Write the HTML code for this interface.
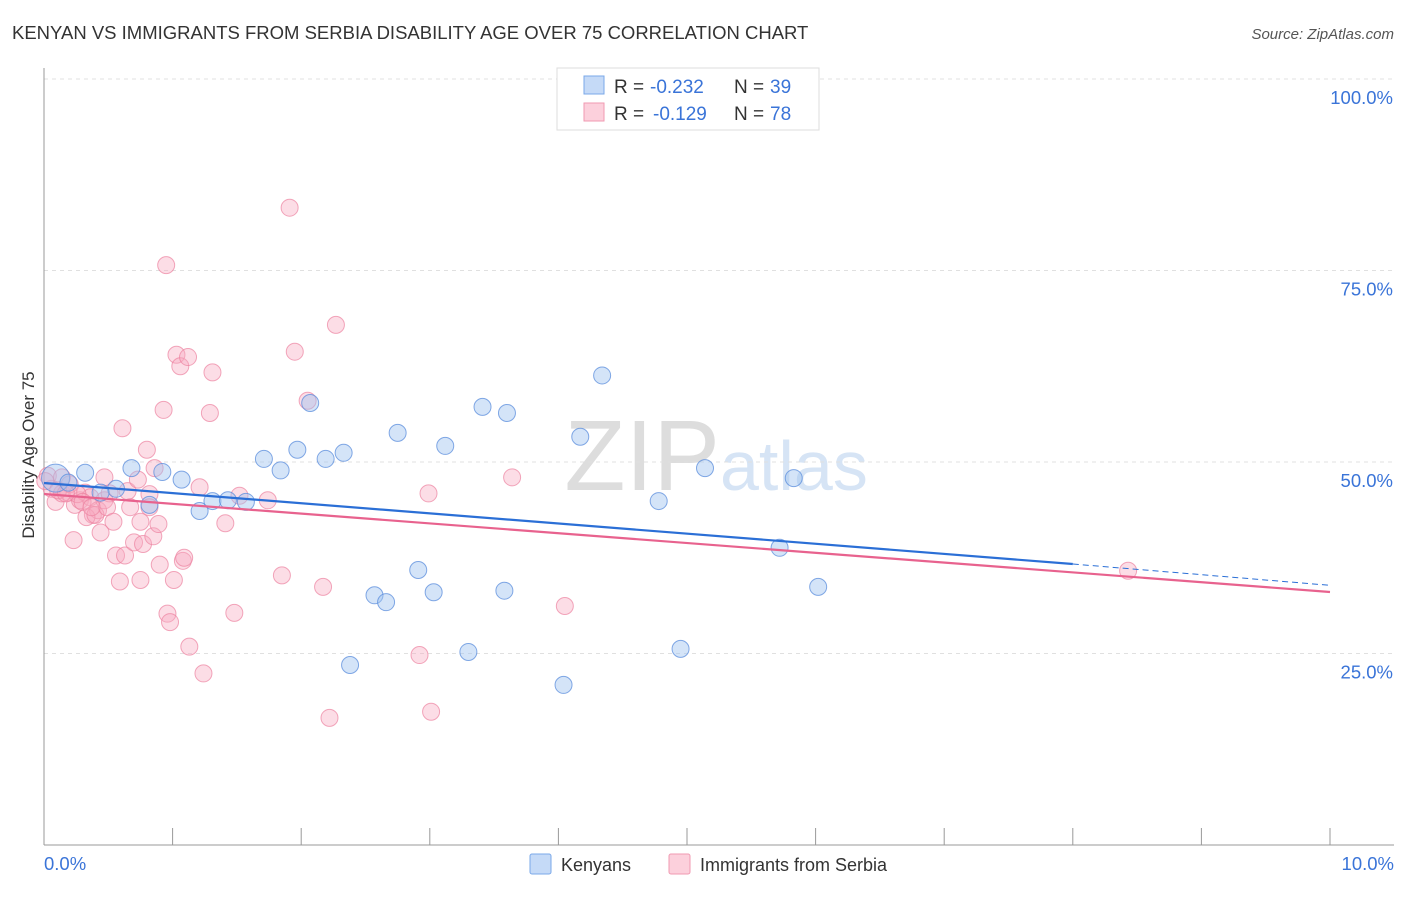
<!DOCTYPE html>
<html><head><meta charset="utf-8"><style>
body{margin:0;background:#fff;font-family:"Liberation Sans",sans-serif}
svg text{font-family:"Liberation Sans",sans-serif}
</style></head><body>
<svg id="c" width="1406" height="892">
<text x="12" y="39" font-size="18.5" fill="#333">KENYAN VS IMMIGRANTS FROM SERBIA DISABILITY AGE OVER 75 CORRELATION CHART</text>
<text x="1394" y="39" font-size="15" fill="#555" text-anchor="end" font-style="italic">Source: ZipAtlas.com</text>
<text x="34" y="455" font-size="17" fill="#333" text-anchor="middle" transform="rotate(-90 34 455)">Disability Age Over 75</text>
<text x="720" y="490" font-size="100" fill="#ddd" text-anchor="end" font-family="Liberation Serif">ZIP</text>
<text x="720" y="490" font-size="70" fill="#d6e4f5">atlas</text>
<g id="grid"></g><g id="axes"></g><g id="pts"></g><g id="lines"></g>
<g>
<rect x="557" y="68" width="262" height="62" fill="#fff" stroke="#ddd"/>
<rect x="584" y="76" width="20" height="18" fill="#c5daf7" stroke="#7aa8e8"/>
<rect x="584" y="103" width="20" height="18" fill="#fcd0dc" stroke="#f09ab2"/>
<text x="614" y="93" font-size="19" fill="#333">R =</text>
<text x="650" y="93" font-size="19" fill="#3a74d8">-0.232</text>
<text x="734" y="93" font-size="19" fill="#333">N =</text>
<text x="770" y="93" font-size="19" fill="#3a74d8">39</text>
<text x="614" y="120" font-size="19" fill="#333">R =</text>
<text x="653" y="120" font-size="19" fill="#3a74d8">-0.129</text>
<text x="734" y="120" font-size="19" fill="#333">N =</text>
<text x="770" y="120" font-size="19" fill="#3a74d8">78</text>
</g>
<g>
<rect x="530" y="854" width="21" height="20" fill="#c5daf7" stroke="#7aa8e8" rx="2"/>
<text x="561" y="871" font-size="18" fill="#333">Kenyans</text>
<rect x="669" y="854" width="21" height="20" fill="#fcd0dc" stroke="#f09ab2" rx="2"/>
<text x="700" y="871" font-size="18" fill="#333">Immigrants from Serbia</text>
</g>
</svg>
<script>
const xTicks=[0,1,2,3,4,5,6,7,8,9,10];
const yTicks=[25,50,75,100];
const yTickLabels=["25.0%","50.0%","75.0%","100.0%"];
const xTickLabels=["0.0%","10.0%"];
const blueX=[0.09,0.32,0.19,0.56,0.68,0.92,1.07,0.82,1.21,1.31,1.43,1.57,1.71,1.84,1.97,2.19,2.33,2.07,2.75,3.12,3.41,3.60,4.17,4.34,4.78,5.14,5.83,5.72,6.02,2.91,3.03,2.57,2.66,3.58,2.38,3.30,4.04,4.95,0.44];
const blueY=[47.9,48.6,47.3,46.5,49.2,48.7,47.7,44.4,43.6,44.9,45.0,44.8,50.4,48.9,51.6,50.4,51.2,57.7,53.8,52.1,57.2,56.4,53.3,61.3,44.9,49.2,47.9,38.8,33.7,35.9,33.0,32.6,31.7,33.2,23.5,25.2,20.9,25.6,46.0];
const pinkX=[0.03,0.06,0.09,0.14,0.19,0.23,0.24,0.28,0.32,0.36,0.38,0.42,0.47,0.51,0.33,0.40,0.44,0.49,0.54,0.56,0.59,0.61,0.63,0.65,0.67,0.70,0.73,0.75,0.75,0.77,0.80,0.82,0.85,0.86,0.89,0.90,0.93,0.95,0.96,0.98,1.01,1.03,1.06,1.08,1.09,1.12,1.13,1.21,1.24,1.29,1.31,1.41,1.48,1.52,1.74,1.85,1.91,1.95,2.05,2.17,2.22,2.27,2.92,2.99,3.01,3.64,4.05,8.43,0.14,0.20,0.26,0.30,0.37,0.82,0.47,0.01,0.11,0.17];
const pinkY=[48.2,46.5,44.8,45.9,46.0,39.8,44.4,45.0,46.0,45.4,43.1,43.7,45.0,45.9,42.8,43.1,40.8,44.1,42.2,37.8,34.4,54.4,37.8,46.2,44.1,39.5,47.7,34.6,42.2,39.3,51.6,45.8,40.3,49.2,41.9,36.6,56.8,75.7,30.2,29.1,34.6,64.0,62.5,37.1,37.5,63.7,25.9,46.7,22.4,56.4,61.7,42.0,30.3,45.6,45.0,35.2,83.2,64.4,58.0,33.7,16.6,67.9,24.8,45.9,17.4,48.0,31.2,35.8,48.0,47.1,45.8,44.8,44.1,44.1,48.0,47.5,46.3,45.9];
const blueLine=[[0,47.26],[8,36.68]];
const blueDash=[[8,36.68],[10,33.9]];
const pinkLine=[[0,45.82],[10,33.03]];
const X=v=>44+v*128.6, Y=v=>845-v*7.66;
const NS="http://www.w3.org/2000/svg";
function mk(t,a,p){const e=document.createElementNS(NS,t);for(const k in a)e.setAttribute(k,a[k]);p.appendChild(e);return e;}
const grid=document.getElementById('grid'),axes=document.getElementById('axes'),pts=document.getElementById('pts'),lines=document.getElementById('lines');
yTicks.forEach((t,i)=>{
 const g=mk('line',{x1:44,x2:1394,y1:Y(t),y2:Y(t),stroke:'#e0e0e0','stroke-dasharray':'4,4'},grid);
 
 
 const tx=mk('text',{x:1393,y:Y(t)+25,'font-size':18.5,fill:'#3a74d8','text-anchor':'end'},axes);tx.textContent=yTickLabels[i];
 
 
});
const ax=mk('line',{x1:44,x2:44,y1:68,y2:845,stroke:'#999'},axes);


const bx=mk('line',{x1:44,x2:1394,y1:845,y2:845,stroke:'#999'},axes);


xTicks.forEach(t=>{const l=mk('line',{x1:X(t),x2:X(t),y1:828,y2:845,stroke:'#999'},axes);
 
 });
[[0,'start',44],[10,'end',1394]].forEach(([t,a,x],i)=>{const tx=mk('text',{x:x,y:870,'font-size':18.5,fill:'#3a74d8','text-anchor':a},axes);tx.textContent=xTickLabels[i];
 
 });
pinkX.forEach((x,i)=>{const c=mk('circle',{cx:X(x),cy:Y(pinkY[i]),r:8.5,fill:'rgba(248,170,192,0.4)',stroke:'rgba(236,130,160,0.7)'},pts);
 
 });
blueX.forEach((x,i)=>{const c=mk('circle',{cx:X(x),cy:Y(blueY[i]),r:i==0?14:8.5,fill:'rgba(160,195,240,0.45)',stroke:'rgba(90,140,220,0.75)'},pts);
 
 });
function ln(d,col,w,dash,name){const l=mk('line',{x1:X(d[0][0]),y1:Y(d[0][1]),x2:X(d[1][0]),y2:Y(d[1][1]),stroke:col,'stroke-width':w},lines);if(dash)l.setAttribute('stroke-dasharray',dash);
 
 }
ln(blueLine,'#2b6fd6',2.2,null,'kenyans-trendline');
ln(blueDash,'#2b6fd6',1,'6,4','kenyans-trendline-extension');
ln(pinkLine,'#e8628e',2.2,null,'serbia-trendline');
</script>
</body></html>
